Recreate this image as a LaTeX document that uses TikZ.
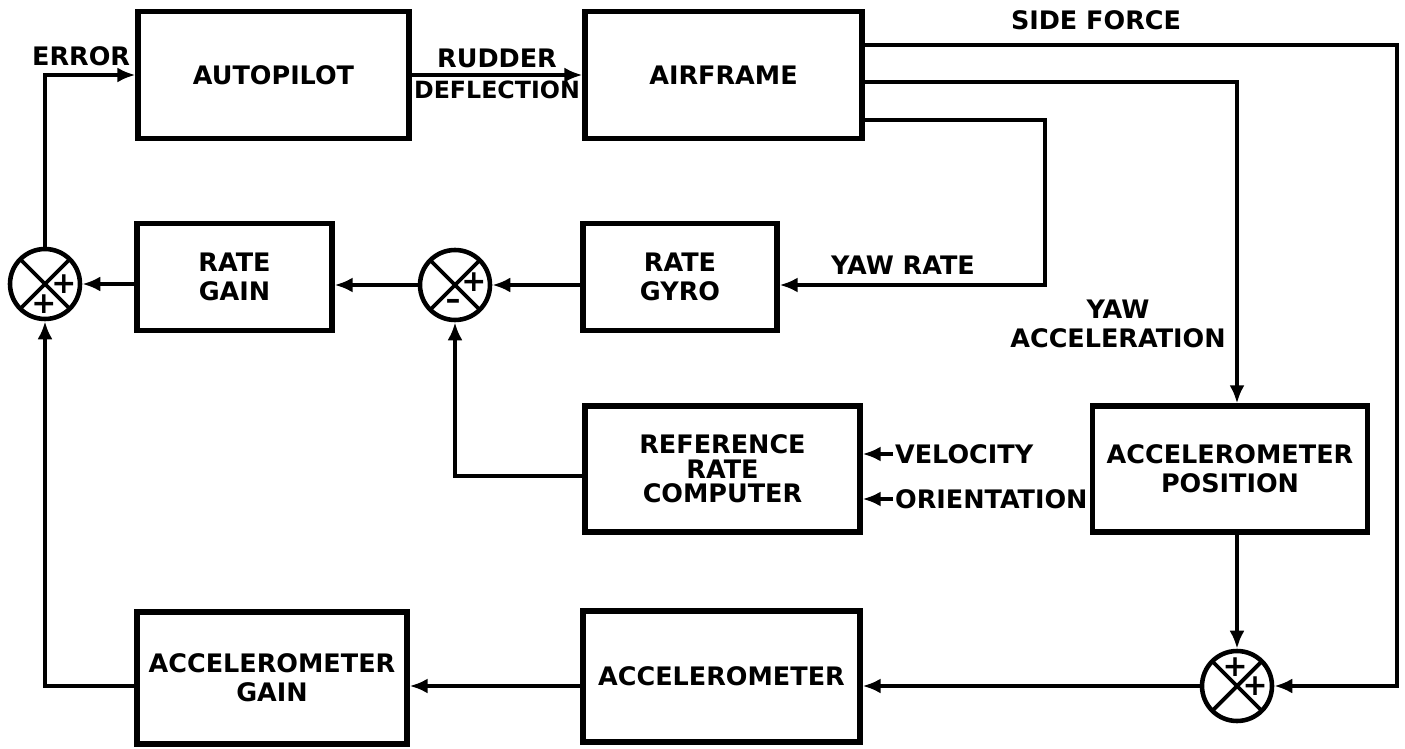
\documentclass[tikz,border=0pt]{standalone}
\usepackage{fontspec}
\setmainfont{DejaVu Sans}
\usetikzlibrary{arrows.meta,calc,positioning}

\tikzset{
  blk/.style={draw, line width=3pt, align=center, inner sep=2pt,
    font=\bfseries\fontsize{14.5}{16.5}\selectfont},
  sumj/.style={draw, circle, line width=2.6pt, minimum size=1.4cm, inner sep=0pt,
    path picture={\draw[line width=2.2pt]
      (path picture bounding box.north west) -- (path picture bounding box.south east)
      (path picture bounding box.north east) -- (path picture bounding box.south west);}},
  arr/.style={line width=2.2pt, -{Latex[length=3.6mm,width=3mm]}},
  lbl/.style={font=\bfseries\fontsize{14.5}{16.5}\selectfont, align=center, inner sep=1pt},
  sgn/.style={font=\bfseries\fontsize{17}{17}\selectfont, inner sep=0pt},
}

\begin{document}
\begin{tikzpicture}[x=0.02cm, y=-0.02cm]
    \useasboundingbox (0,0) rectangle (1405,749);

    % blocks
    \node[blk, minimum width=5.42cm, minimum height=2.54cm] (auto) at (273.5,75) {AUTOPILOT};
    \node[blk, minimum width=5.54cm, minimum height=2.54cm] (air) at (723.5,75) {AIRFRAME};
    \node[blk, minimum width=3.9cm, minimum height=2.14cm] (rgain) at (234.5,277) {RATE\\GAIN};
    \node[blk, minimum width=3.88cm, minimum height=2.14cm] (rgyro) at (680,277) {RATE\\GYRO};
    \node[blk, minimum width=5.5cm, minimum height=2.52cm,
      font=\bfseries\fontsize{14.5}{14}\selectfont] (refc) at (722.5,469) {REFERENCE\\RATE\\COMPUTER};
    \node[blk, minimum width=5.5cm, minimum height=2.52cm] (apos) at (1230,469) {ACCELEROMETER\\POSITION};
    \node[blk, minimum width=5.54cm, minimum height=2.62cm] (accel) at (721.5,676.5) {ACCELEROMETER};
    \node[blk, minimum width=5.4cm, minimum height=2.64cm] (again) at (272,678) {ACCELEROMETER\\GAIN};

    % summing junctions
    \node[sumj] (sL) at (45,284) {};
    \node[sumj] (sM) at (455,285) {};
    \node[sumj] (sR) at (1237,686) {};
    \node[sgn] at ($(sL)+(19,0)$) {+};
    \node[sgn] at ($(sL)+(-1,20)$) {+};
    \node[sgn] at ($(sM)+(19,-3)$) {+};
    \node[sgn] at ($(sM)+(-2,19)$) {--};
    \node[sgn] at ($(sR)+(-2,-19)$) {+};
    \node[sgn] at ($(sR)+(18,0)$) {+};

    % corners
    \coordinate (sfc) at (1397,45);
    \coordinate (yac) at (1237,82);
    \coordinate (yrc) at (1045,120);
    \coordinate (rin) at (455,476);

    % forward path
    \draw[arr] (sL.north) |- (auto.west) node[lbl, pos=0.7, above=3pt] {ERROR};
    \draw[arr] (auto.east) -- (air.west)
      node[lbl, midway, above=2pt] {RUDDER}
      node[lbl, midway, below=1pt, font=\bfseries\fontsize{13.5}{16}\selectfont] {DEFLECTION};

    % airframe outputs
    \draw[arr] (air.east |- sfc) -- (sfc) |- (sR.east);
    \node[lbl] at (1096,20) {SIDE FORCE};
    \draw[arr] (air.east |- yac) -- (yac) -- (apos.north -| yac);
    \node[lbl] at (1118,324) {YAW\\ACCELERATION};
    \draw[arr] (air.east |- yrc) -- (yrc) |- (rgyro.east |- sM);
    \node[lbl] at (903,265) {YAW RATE};

    % rate loop
    \draw[arr] (rgyro.west |- sM) -- (sM.east);
    \draw[arr] (sM.west) -- (rgain.east |- sM);
    \draw[arr] (rgain.west |- sL) -- (sL.east);
    \draw[arr] (refc.west |- rin) -- (rin) -- (sM.south);
    \node[lbl, anchor=west] (velo) at (893,454) {VELOCITY};
    \node[lbl, anchor=west] (orient) at (893,499) {ORIENTATION};
    \draw[arr] (velo.west) -- (velo.west -| refc.east);
    \draw[arr] (orient.west) -- (orient.west -| refc.east);

    % acceleration loop
    \draw[arr] (apos.south -| sR) -- (sR.north);
    \draw[arr] (sR.west) -- (accel.east |- sR);
    \draw[arr] (accel.west |- sR) -- (again.east |- sR);
    \draw[arr] (again.west |- sR) -| (sL.south);
\end{tikzpicture}
\end{document}
